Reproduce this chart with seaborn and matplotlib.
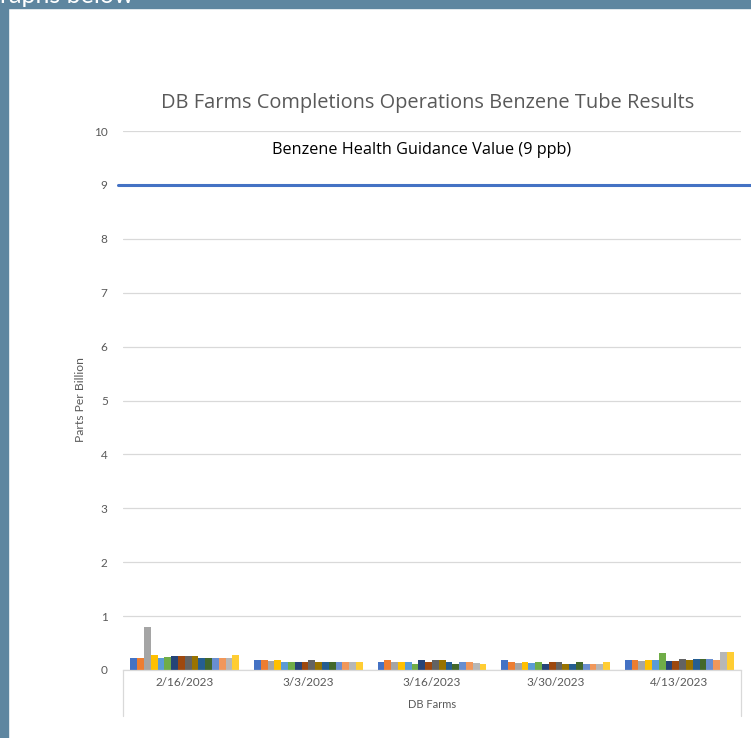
import matplotlib
matplotlib.use("Agg")
import numpy as np
import pandas as pd
import matplotlib.pyplot as plt
import seaborn as sns
from matplotlib.lines import Line2D
from matplotlib.patches import Rectangle

# ---- data ----
dates = ["2/16/2023", "3/3/2023", "3/16/2023", "3/30/2023", "4/13/2023"]
tubes = [f"Tube {i}" for i in range(1, 17)]

ppb_0216 = [0.23, 0.23, 0.79, 0.28, 0.23, 0.25, 0.26, 0.26, 0.26, 0.26, 0.23, 0.23, 0.23, 0.23, 0.23, 0.28]
ppb_0303 = [0.18, 0.18, 0.17, 0.18, 0.15, 0.15, 0.15, 0.15, 0.18, 0.15, 0.15, 0.15, 0.15, 0.15, 0.15, 0.15]
ppb_0316 = [0.15, 0.18, 0.15, 0.15, 0.15, 0.12, 0.18, 0.15, 0.18, 0.18, 0.15, 0.12, 0.15, 0.15, 0.13, 0.12]
ppb_0330 = [0.18, 0.15, 0.13, 0.15, 0.13, 0.15, 0.12, 0.15, 0.15, 0.12, 0.12, 0.15, 0.12, 0.12, 0.12, 0.15]
ppb_0413 = [0.19, 0.19, 0.16, 0.19, 0.19, 0.32, 0.16, 0.16, 0.21, 0.19, 0.21, 0.21, 0.21, 0.19, 0.34, 0.34]

guidance_value = 9
guidance_label = "Benzene Health Guidance Value (9 ppb)"

tube_colors = ["#4472C4", "#ED7D31", "#A5A5A5", "#FFC000", "#5B9BD5", "#70AD47",
               "#264478", "#9E480E", "#636363", "#997300", "#255E91", "#43682B",
               "#698ED0", "#F1975A", "#B7B7B7", "#FFCD33"]

rows = []
for d, vals in zip(dates, [ppb_0216, ppb_0303, ppb_0316, ppb_0330, ppb_0413]):
    for t, v in zip(tubes, vals):
        rows.append({"date": d, "tube": t, "ppb": v})
df = pd.DataFrame(rows)

sns.set_theme(style="white")
plt.rcParams["font.family"] = ["Lato", "DejaVu Sans"]
TITLE_FONT = ["Open Sans", "DejaVu Sans"]

W, H = 751, 738
GREY = "#595959"
GRID = "#D9D9D9"
FRAME = "#5E86A0"

fig = plt.figure(figsize=(W / 100, H / 100), dpi=100)
fig.patch.set_facecolor("white")

# frame strips from the surrounding page (with the clipped caption above)
fig.patches.append(Rectangle((0, 0), 8 / W, 1, transform=fig.transFigure,
                             color=FRAME, zorder=0))
fig.patches.append(Rectangle((0, 1 - 8 / H), 1, 8 / H, transform=fig.transFigure,
                             color=FRAME, zorder=0))
fig.text(134 / W, 1 - 3 / H, "graphs below", ha="right", va="baseline",
         color="white", fontsize=18)

ax = fig.add_axes([123 / W, 1 - 670 / H, 618 / W, 539 / H])
sns.barplot(data=df, x="date", y="ppb", hue="tube", palette=tube_colors,
            width=0.88, saturation=1, linewidth=0, legend=False, ax=ax)

ax.set_ylim(0, 10)
ax.set_xlim(-0.5, len(dates) - 0.5)
ax.set_yticks(range(0, 11))
ax.yaxis.grid(True, color=GRID, lw=0.9)
ax.set_axisbelow(True)
for s in ["top", "right", "left"]:
    ax.spines[s].set_visible(False)
ax.spines["bottom"].set_color(GRID)
ax.spines["bottom"].set_linewidth(0.9)
ax.tick_params(axis="y", length=0, pad=11, labelsize=8.5, labelcolor=GREY)
ax.tick_params(axis="x", length=0, pad=5, labelsize=8.5, labelcolor=GREY)
ax.set_xlabel("")
ax.set_ylabel("")

# guidance line (spills a little past the plot area, as in the original)
x0, x1 = ax.get_xlim()
ax.plot([x0 - 0.04, x1 + 0.08], [guidance_value, guidance_value],
        color="#4472C4", lw=2.2, clip_on=False, zorder=5)
fig.text(422 / W, 1 - 150 / H, guidance_label, ha="center", va="center",
         fontsize=11.7, color="black", family=TITLE_FONT)

# multi-level category box below the axis
for xp in (123, 741):
    fig.add_artist(Line2D([xp / W, xp / W], [1 - 670 / H, 1 - 716 / H],
                          color=GRID, lw=0.9))
fig.text(432 / W, 1 - 704 / H, "DB Farms", ha="center", va="center",
         fontsize=8, color=GREY)

fig.text(81 / W, 1 - 400 / H, "Parts Per Billion", ha="center", va="center",
         rotation=90, fontsize=8.7, color=GREY)
fig.text(428 / W, 1 - 103 / H, "DB Farms Completions Operations Benzene Tube Results",
         ha="center", va="center", fontsize=14.4, color=GREY, family=TITLE_FONT)

fig.savefig("out.png", dpi=100)
